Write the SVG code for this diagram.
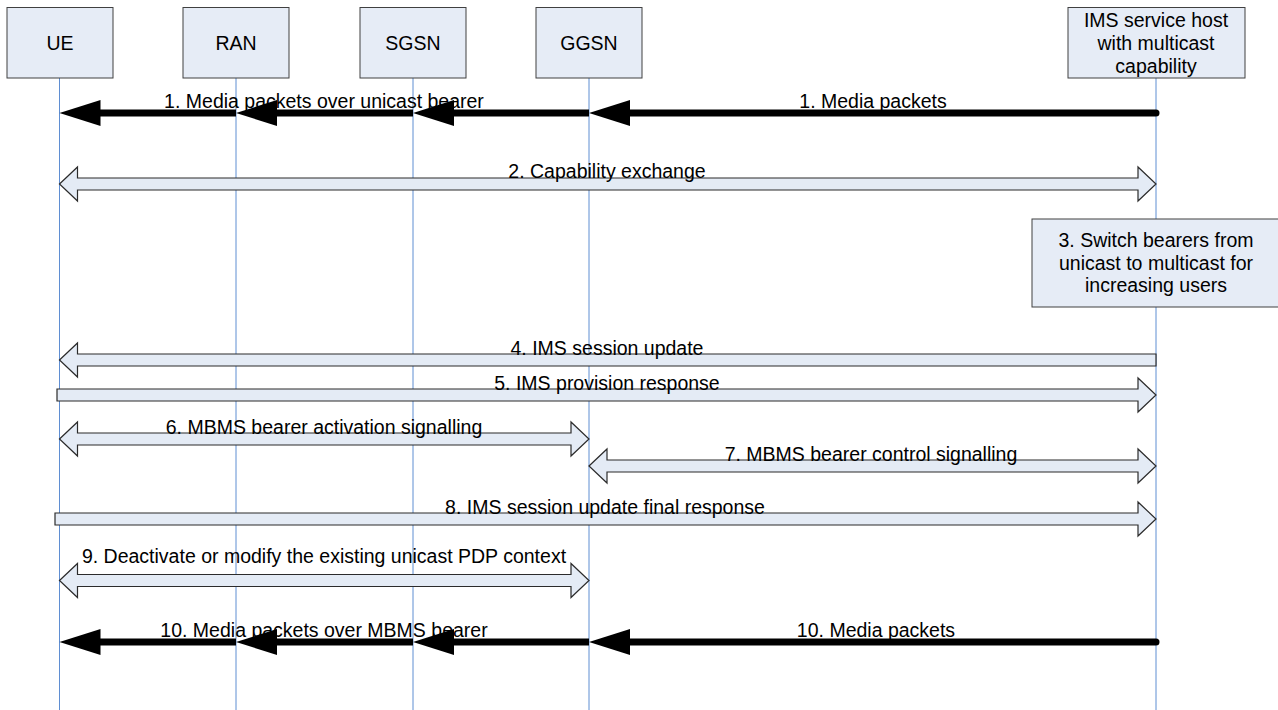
<svg xmlns="http://www.w3.org/2000/svg" width="1278" height="710" viewBox="0 0 1278 710">
  <style>
    .box { fill: #E6ECF6; stroke: #404040; stroke-width: 1; }
    .life { stroke: #5F8ED2; stroke-width: 1; fill: none; }
    .blk { fill: #E4EBF5; stroke: #2B2B2B; stroke-width: 1.2; stroke-linejoin: miter; }
    .thick { stroke: #000; stroke-width: 7; fill: none; }
    text { font-family: "Liberation Sans", Arial, sans-serif; font-size: 19.5px; fill: #000; }
    .c { text-anchor: middle; }
  </style>
  <defs>
    <!-- solid head for the media-flow arrows, tip at the origin pointing left -->
    <path id="head" d="M0,0 L41,-13 L41,13 Z" fill="#000"/>
  </defs>

  <rect width="1278" height="710" fill="#fff"/>

  <!-- lifelines -->
  <g id="lifelines">
    <line class="life" x1="59.5" y1="78" x2="59.5" y2="710"/>
    <line class="life" x1="236" y1="78" x2="236" y2="710"/>
    <line class="life" x1="413" y1="78" x2="413" y2="710"/>
    <line class="life" x1="589" y1="78" x2="589" y2="710"/>
    <line class="life" x1="1156" y1="78" x2="1156" y2="710"/>
  </g>

  <!-- participants -->
  <g id="ue">
    <rect class="box" x="7" y="7.5" width="106" height="70.5"/>
    <text class="c" x="60" y="50">UE</text>
  </g>
  <g id="ran">
    <rect class="box" x="183" y="7.5" width="106" height="70.5"/>
    <text class="c" x="236" y="50">RAN</text>
  </g>
  <g id="sgsn">
    <rect class="box" x="360" y="7.5" width="106" height="70.5"/>
    <text class="c" x="413" y="50">SGSN</text>
  </g>
  <g id="ggsn">
    <rect class="box" x="536" y="7.5" width="106" height="70.5"/>
    <text class="c" x="589" y="50">GGSN</text>
  </g>
  <g id="ims">
    <rect class="box" x="1068" y="7.5" width="177" height="70.5"/>
    <text class="c" x="1156" y="27">IMS service host</text>
    <text class="c" x="1156" y="50">with multicast</text>
    <text class="c" x="1156" y="73">capability</text>
  </g>

  <!-- step 3: local action at the service host -->
  <g id="switch">
    <rect class="box" x="1032" y="219" width="252" height="88"/>
    <text class="c" x="1156" y="247">3. Switch bearers from</text>
    <text class="c" x="1156" y="269.5">unicast to multicast for</text>
    <text class="c" x="1156" y="292">increasing users</text>
  </g>

  <!-- messages -->
  <g id="connectors">
    <!-- 1. media over unicast -->
    <line class="thick" x1="1156" y1="113" x2="628" y2="113" stroke-linecap="round"/>
    <use href="#head" x="589" y="113"/>
    <line class="thick" x1="589" y1="113" x2="452" y2="113"/>
    <use href="#head" x="413" y="113"/>
    <line class="thick" x1="413" y1="113" x2="275" y2="113"/>
    <use href="#head" x="236" y="113"/>
    <line class="thick" x1="236" y1="113" x2="98" y2="113"/>
    <use href="#head" x="59.5" y="113"/>

    <!-- 2. capability exchange -->
    <path class="blk" d="M59.5,184 L77.5,167 L77.5,178 L1138,178 L1138,167 L1156,184 L1138,201 L1138,190 L77.5,190 L77.5,201 Z"/>

    <!-- 4. session update -->
    <path class="blk" d="M59.5,360 L77.5,343 L77.5,354 L1156,354 L1156,366 L77.5,366 L77.5,377 Z"/>

    <!-- 5. provision response -->
    <path class="blk" d="M57,389 L1138,389 L1138,378 L1156,395 L1138,412 L1138,401 L57,401 Z"/>

    <!-- 6. bearer activation -->
    <path class="blk" d="M59.5,439 L77.5,422 L77.5,433 L571,433 L571,422 L589,439 L571,456 L571,445 L77.5,445 L77.5,456 Z"/>

    <!-- 7. bearer control -->
    <path class="blk" d="M589,466 L607,449 L607,460 L1138,460 L1138,449 L1156,466 L1138,483 L1138,472 L607,472 L607,483 Z"/>

    <!-- 8. final response -->
    <path class="blk" d="M55,513 L1138,513 L1138,502 L1156,519 L1138,536 L1138,525 L55,525 Z"/>

    <!-- 9. deactivate / modify PDP context -->
    <path class="blk" d="M59.5,580.5 L77.5,563.5 L77.5,574.5 L571,574.5 L571,563.5 L589,580.5 L571,597.5 L571,586.5 L77.5,586.5 L77.5,597.5 Z"/>

    <!-- 10. media over MBMS -->
    <line class="thick" x1="1156" y1="642" x2="628" y2="642" stroke-linecap="round"/>
    <use href="#head" x="589" y="642"/>
    <line class="thick" x1="589" y1="642" x2="452" y2="642"/>
    <use href="#head" x="413" y="642"/>
    <line class="thick" x1="413" y1="642" x2="275" y2="642"/>
    <use href="#head" x="236" y="642"/>
    <line class="thick" x1="236" y1="642" x2="98" y2="642"/>
    <use href="#head" x="59.5" y="642"/>
  </g>

  <!-- message labels -->
  <g id="labels">
    <text class="c" x="324" y="108">1. Media packets over unicast bearer</text>
    <text class="c" x="873" y="108">1. Media packets</text>
    <text class="c" x="607" y="178">2. Capability exchange</text>
    <text class="c" x="607" y="355">4. IMS session update</text>
    <text class="c" x="607" y="390">5. IMS provision response</text>
    <text class="c" x="324" y="434">6. MBMS bearer activation signalling</text>
    <text class="c" x="871" y="461">7. MBMS bearer control signalling</text>
    <text class="c" x="605" y="514">8. IMS session update final response</text>
    <text class="c" x="324" y="563">9. Deactivate or modify the existing unicast PDP context</text>
    <text class="c" x="324" y="637">10. Media packets over MBMS bearer</text>
    <text class="c" x="876" y="637">10. Media packets</text>
  </g>
</svg>
